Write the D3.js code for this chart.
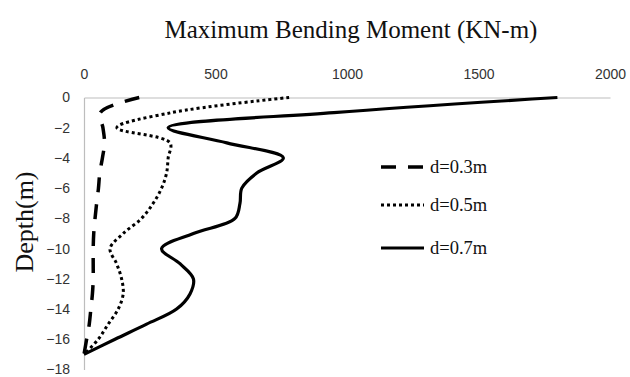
<!DOCTYPE html>
<html>
<head>
<meta charset="utf-8">
<script src="https://cdn.jsdelivr.net/npm/d3@7"></script>
<style>
  html, body { margin: 0; padding: 0; background: #fff; }
  svg { display: block; }
</style>
</head>
<body>
<svg id="chart" width="630" height="377"></svg>
<script>
// Depth below ground (m) at which each moment is sampled
const depths = [0, -1, -2, -3, -4, -5, -6, -7, -8, -9, -10, -11, -12, -13, -14, -15, -16, -17];

// Maximum bending moment (KN-m) for each pile diameter
const momentD03 = [210, 62, 72, 78, 70, 60, 55, 48, 42, 37, 35, 35, 35, 32, 26, 20, 10, 0];
const momentD05 = [780, 333, 125, 327, 320, 314, 295, 263, 219, 149, 99, 124, 143, 149, 130, 92, 54, 0];
const momentD07 = [1800, 950, 320, 543, 758, 657, 600, 593, 574, 416, 295, 365, 416, 403, 352, 238, 118, 0];

const seriesNames = ["d=0.3m", "d=0.5m", "d=0.7m"];
const xTicks = [0, 500, 1000, 1500, 2000];
const yTicks = [0, -2, -4, -6, -8, -10, -12, -14, -16, -18];

const svg = d3.select("#chart");

const x = d3.scaleLinear().domain([0, 2000]).range([84, 610]);
const y = d3.scaleLinear().domain([0, -18]).range([97.5, 369.5]);

// Title
svg.append("text")
  .attr("x", 351).attr("y", 38)
  .attr("text-anchor", "middle")
  .style("font-family", "'Liberation Serif', 'Times New Roman', serif")
  .style("font-size", "25px")
  .attr("fill", "#111")
  .text("Maximum Bending Moment (KN-m)");

// Y axis title
svg.append("text")
  .attr("transform", "translate(33,222) rotate(-90)")
  .attr("text-anchor", "middle")
  .style("font-family", "'Liberation Serif', 'Times New Roman', serif")
  .style("font-size", "26px")
  .attr("fill", "#111")
  .text("Depth(m)");

// Top value axis
const xAxis = d3.axisTop(x).tickValues(xTicks).tickSize(0).tickPadding(0).tickFormat(d3.format("d"));
const gx = svg.append("g").attr("transform", "translate(0,97.5)").call(xAxis);
gx.select(".domain").attr("stroke", "#bdbdbd").attr("stroke-width", 1.2);
gx.selectAll(".tick text")
  .attr("y", -19)
  .style("font-family", "'Liberation Sans', Arial, sans-serif")
  .style("font-size", "14px")
  .attr("fill", "#333");

// Left depth axis
const yAxis = d3.axisLeft(y).tickValues(yTicks).tickSize(0).tickPadding(0).tickFormat(d3.format("d"));
const gy = svg.append("g").attr("transform", "translate(84,0)").call(yAxis);
gy.select(".domain").attr("stroke", "#bdbdbd").attr("stroke-width", 1.2);
gy.selectAll(".tick text")
  .attr("x", -14)
  .style("font-family", "'Liberation Sans', Arial, sans-serif")
  .style("font-size", "14px")
  .attr("fill", "#333");

// Series styles
const styles = [
  { dash: "15,12", width: 3.5 },
  { dash: "3,3", width: 3 },
  { dash: null, width: 3.2 }
];
const seriesValues = [momentD03, momentD05, momentD07];

const line = d3.line()
  .x(d => x(d[0]))
  .y(d => y(d[1]))
  .curve(d3.curveCatmullRom.alpha(0.5));

seriesValues.forEach((vals, i) => {
  const pts = vals.map((v, j) => [v, depths[j]]);
  svg.append("path")
    .datum(pts)
    .attr("d", line)
    .attr("fill", "none")
    .attr("stroke", "#000")
    .attr("stroke-width", styles[i].width)
    .attr("stroke-dasharray", styles[i].dash);
});

// Legend
const legendY = [167, 205, 248];
const leg = svg.append("g");
seriesNames.forEach((name, i) => {
  leg.append("line")
    .attr("x1", 381).attr("x2", 424)
    .attr("y1", legendY[i]).attr("y2", legendY[i])
    .attr("stroke", "#000")
    .attr("stroke-width", styles[i].width)
    .attr("stroke-dasharray", styles[i].dash);
  leg.append("text")
    .attr("x", 430).attr("y", legendY[i] + 6)
    .style("font-family", "'Liberation Serif', 'Times New Roman', serif")
    .style("font-size", "18.5px")
    .attr("fill", "#111")
    .text(name);
});
</script>
</body>
</html>
